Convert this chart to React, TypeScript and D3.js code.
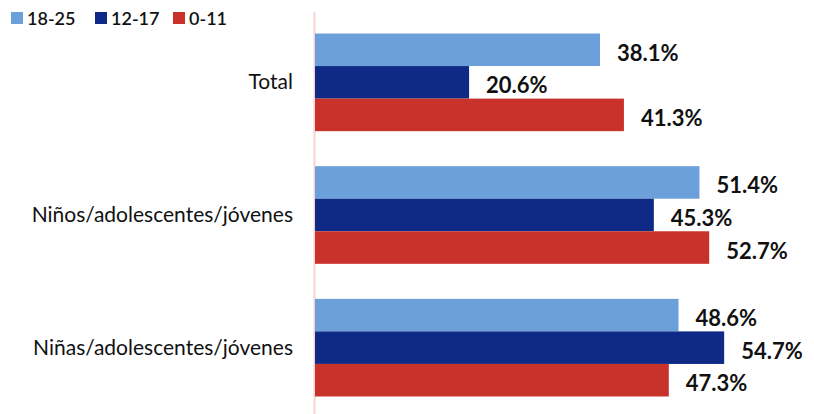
import { useEffect, useRef } from 'react';
import * as d3 from 'd3';

const categories = ['Total', 'Niños/adolescentes/jóvenes', 'Niñas/adolescentes/jóvenes'];
const seriesNames = ['18-25', '12-17', '0-11'];
const seriesColors = ['#6ca0da', '#0f2a86', '#c9322a'];
const values1825 = [38.1, 51.4, 48.6];
const values1217 = [20.6, 45.3, 54.7];
const values011 = [41.3, 52.7, 47.3];

const App: React.FC = () => {
  const svgRef = useRef<SVGSVGElement | null>(null);

  useEffect(() => {
    if (svgRef.current === null) return;
    const width = 814;
    const height = 414;
    const svg = d3.select(svgRef.current).attr('width', width).attr('height', height);
    svg.selectAll('*').remove();

    const font = 'Lato, "Open Sans", sans-serif';
    const allValues = [values1825, values1217, values011];

    const x = d3.scaleLinear().domain([0, 60]).range([315, 315 + 7.48 * 60]);
    const y = d3
      .scaleBand<string>()
      .domain(categories)
      .range([16, 414])
      .paddingInner(0.264)
      .paddingOuter(0.132);
    const ySub = d3.scaleBand<string>().domain(seriesNames).range([0, y.bandwidth()]);

    // eje vertical
    svg
      .append('line')
      .attr('x1', x(0) - 0.5)
      .attr('x2', x(0) - 0.5)
      .attr('y1', 12)
      .attr('y2', height)
      .attr('stroke', '#f6d4d2')
      .attr('stroke-width', 2);

    // barras + etiquetas
    seriesNames.forEach((s, si) => {
      const g = svg.append('g');
      g.selectAll('rect')
        .data(categories)
        .enter()
        .append('rect')
        .attr('x', x(0))
        .attr('y', (_d, i) => (y(categories[i]) ?? 0) + (ySub(s) ?? 0))
        .attr('width', (_d, i) => x(allValues[si][i]) - x(0))
        .attr('height', ySub.bandwidth())
        .attr('fill', seriesColors[si]);
      g.selectAll('text')
        .data(categories)
        .enter()
        .append('text')
        .attr('x', (_d, i) => x(allValues[si][i]) + 17)
        .attr('y', (_d, i) => (y(categories[i]) ?? 0) + (ySub(s) ?? 0) + ySub.bandwidth() / 2 + 11)
        .attr('font-family', font)
        .attr('font-weight', 'bold')
        .attr('font-size', 22)
        .attr('fill', '#111')
        .text((_d, i) => allValues[si][i].toFixed(1) + '%');
    });

    // categorías
    svg
      .selectAll('.cat')
      .data(categories)
      .enter()
      .append('text')
      .attr('class', 'cat')
      .attr('x', 293)
      .attr('y', (d) => (y(d) ?? 0) + y.bandwidth() / 2 + 7)
      .attr('text-anchor', 'end')
      .attr('font-family', font)
      .attr('font-size', 21)
      .attr('fill', '#111')
      .text((d) => d);

    // leyenda
    const legendX = [11, 95, 173];
    seriesNames.forEach((s, i) => {
      svg
        .append('rect')
        .attr('x', legendX[i])
        .attr('y', 12)
        .attr('width', 12)
        .attr('height', 12)
        .attr('fill', seriesColors[i]);
      svg
        .append('text')
        .attr('x', legendX[i] + 16)
        .attr('y', 25)
        .attr('font-family', font)
        .attr('font-weight', 600)
        .attr('font-size', 18)
        .attr('fill', '#111')
        .text(s);
    });
  }, []);

  return <svg ref={svgRef} style={{ position: 'absolute', left: 0, top: 0 }}></svg>;
};

export default App;
